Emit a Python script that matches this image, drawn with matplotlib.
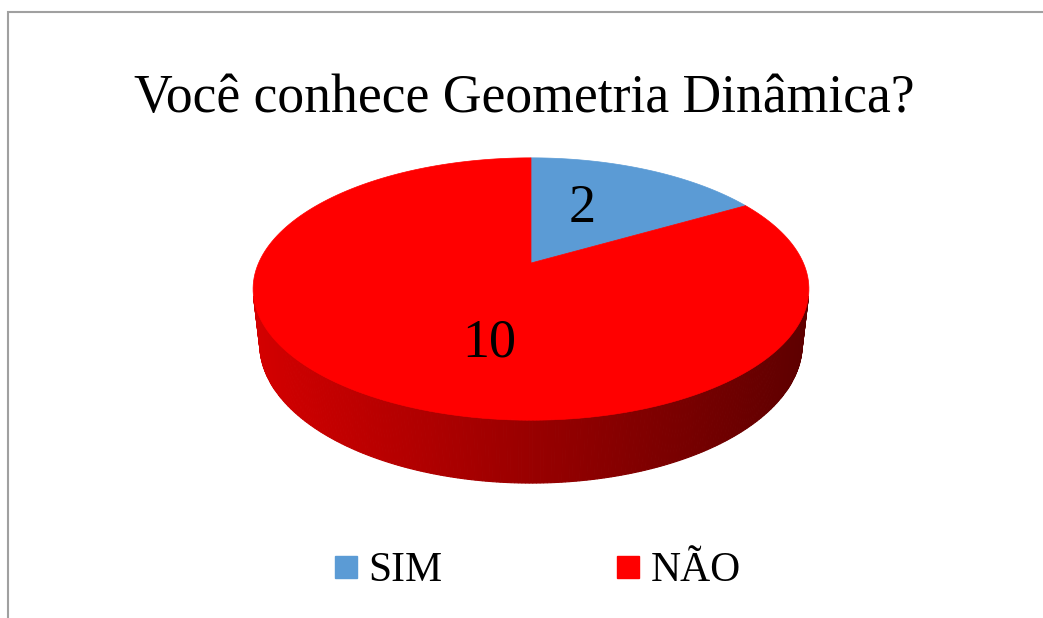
import numpy as np
import matplotlib
matplotlib.use('Agg')
import matplotlib.pyplot as plt
from matplotlib.patches import Polygon
from matplotlib.lines import Line2D

# dados
titulo = 'Você conhece Geometria Dinâmica?'
categorias = ['SIM', 'NÃO']
valores = [2, 10]
cores = ['#5B9BD5', '#FF0000']

plt.rcParams['font.family'] = ['Liberation Serif', 'DejaVu Serif']

W, H = 1043, 618
fig = plt.figure(figsize=(W / 100, H / 100), dpi=100)
ax = fig.add_axes([0, 0, 1, 1])
ax.set_xlim(0, W)
ax.set_ylim(H, 0)
ax.axis('off')

# camera simples para o efeito 3D (pixels)
cx, cy = 531, 263
se, ce = 0.4626, 0.8866
D = 4.47
F = 1217.6
esp = 0.2305  # espessura do disco


def proj(X, Y, Z=0.0):
    X = np.asarray(X, float)
    Y = np.asarray(Y, float)
    prof = D + Y * ce - Z * se
    sx = X * F / prof
    sy = (Y * se + Z * ce) * F / prof
    return cx + sx, cy - sy


# lateral (so a parte visivel, com degrade)
lim = np.degrees(np.arcsin(-1 / (D * ce)))
th = np.radians(np.linspace(180 - lim, 360 + lim, 240))
xl, _ = proj(np.cos(th), np.sin(th))
x0, x1 = xl.min(), xl.max()
for i in range(len(th) - 1):
    a, b = th[i], th[i + 1]
    xa, ya = proj(np.cos(a), np.sin(a), 0)
    xb, yb = proj(np.cos(b), np.sin(b), 0)
    xc, yc = proj(np.cos(b), np.sin(b), -esp)
    xd, yd = proj(np.cos(a), np.sin(a), -esp)
    t = ((xa + xb) / 2 - x0) / (x1 - x0)
    r = 0.83 - 0.46 * t
    ax.add_patch(Polygon([(xa, ya), (xb, yb), (xc, yc), (xd, yd)], closed=True,
                         facecolor=(r, 0, 0), edgecolor=(r, 0, 0), lw=0.8))

# topo (fatias)
total = sum(valores)
ini = 90.0
for v, c in zip(valores, cores):
    fim = ini - 360.0 * v / total
    ang = np.radians(np.linspace(ini, fim, 200))
    px, py = proj(np.cos(ang), np.sin(ang))
    ox, oy = proj(0, 0)
    pts = [(ox, oy)] + list(zip(px, py))
    ax.add_patch(Polygon(pts, closed=True, facecolor=c, edgecolor=c, lw=0.5))
    ini = fim

# rotulos dos valores
pos_rot = [(0.565, 68.5), (0.55, -104.5)]
for v, (rr, aa) in zip(valores, pos_rot):
    lx, ly = proj(rr * np.cos(np.radians(aa)), rr * np.sin(np.radians(aa)))
    ax.text(lx, ly + 18.5, str(v), fontsize=39, ha='center', va='baseline', color='black')

# titulo
fig.text(524.5 / W, 1 - 112 / H, titulo, fontsize=38.6, ha='center', va='baseline')

# legenda
handles = [Line2D([], [], marker='s', linestyle='none', markersize=16,
                  markerfacecolor=c, markeredgecolor=c) for c in cores]
fig.legend(handles, categorias, loc='center', bbox_to_anchor=(538 / W, 1 - 571 / H),
           ncol=2, frameon=False, fontsize=30, handlelength=0.53, handletextpad=0.26,
           columnspacing=4.2, borderpad=0)

# borda cortada (so esquerda e topo aparecem)
ax.plot([8, 8, W + 5], [H + 5, 12, 12], color='#A0A0A0', lw=1.5, solid_joinstyle='miter')

fig.savefig('out.png', dpi=100)
